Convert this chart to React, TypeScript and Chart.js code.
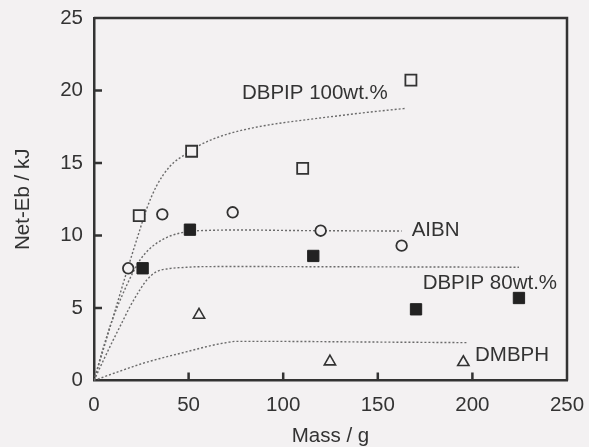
import React, { useEffect, useRef } from "react";
import { Chart, registerables } from "chart.js";

Chart.register(...registerables);

// ---- data ----
const xTickValues = [50, 100, 150, 200];
const yTickValues = [5, 10, 15, 20];

// measured points
const dbpip100PtsX = [23.9, 51.6, 110.3, 167.5];
const dbpip100PtsY = [11.37, 15.81, 14.63, 20.72];

const aibnPtsX = [18.1, 36.1, 73.3, 119.8, 162.6];
const aibnPtsY = [7.74, 11.46, 11.6, 10.33, 9.3];

const dbpip80PtsX = [25.7, 50.7, 115.9, 170.2, 224.6];
const dbpip80PtsY = [7.74, 10.4, 8.59, 4.91, 5.69];

const dmbphPtsX = [55.5, 124.7, 195.2];
const dmbphPtsY = [4.52, 1.3, 1.26];

// fitted (dotted) curves
const dbpip100CurveX = [0, 6, 12, 18, 24, 28, 33, 40, 49, 54, 62, 72, 85, 98, 112, 125, 145, 165];
const dbpip100CurveY = [0, 2.6, 5.2, 7.8, 10.3, 11.9, 13.4, 14.75, 15.67, 16.1, 16.6, 17.05, 17.45, 17.74, 17.98, 18.19, 18.5, 18.77];

const aibnCurveX = [0, 5, 10, 15, 20, 24.3, 28, 33, 40, 49, 60, 80, 100, 120, 140, 162.6];
const aibnCurveY = [0, 2.3, 4.3, 5.9, 7.3, 8.3, 8.9, 9.46, 9.95, 10.26, 10.35, 10.38, 10.35, 10.33, 10.32, 10.31];

const dbpip80CurveX = [0, 5, 10, 15, 19, 24, 28, 33, 40, 48, 56, 80, 110, 140, 170, 200, 224.6];
const dbpip80CurveY = [0, 1.4, 2.75, 4.05, 5.09, 6.2, 6.95, 7.5, 7.72, 7.8, 7.85, 7.86, 7.85, 7.84, 7.83, 7.82, 7.81];

const dmbphCurveX = [0, 8, 16, 26, 35, 44, 52.5, 60, 66, 70, 75, 90, 110, 130, 150, 175, 197];
const dmbphCurveY = [0, 0.38, 0.75, 1.19, 1.52, 1.82, 2.1, 2.35, 2.52, 2.61, 2.7, 2.7, 2.69, 2.67, 2.65, 2.63, 2.61];

// curve labels (text, anchor x, anchor y)
const labelTexts = ["DBPIP 100wt.%", "AIBN", "DBPIP 80wt.%", "DMBPH"];
const labelX = [78.2, 167.9, 173.7, 201.4];
const labelY = [19.83, 10.38, 6.72, 1.76];

const xTitle = "Mass / g";
const yTitle = "Net-Eb / kJ";

// ---- styles ----
const BG = "#f3f1f2";
const INK = "#333333";
const CURVE = "#6b6b6b";
const FONT = "'Liberation Sans', Arial, Helvetica, sans-serif";
const FS = 20.5;

const zip = (xs: number[], ys: number[]) => xs.map((x, i) => ({ x, y: ys[i] }));

const framePlugin = {
  id: "frameAndTicks",
  beforeDatasetsDraw(chart: any) {
    const { ctx, chartArea, scales } = chart;
    ctx.save();
    ctx.strokeStyle = INK;
    ctx.lineWidth = 2.5;
    ctx.beginPath();
    ctx.moveTo(chartArea.left, chartArea.top);
    ctx.lineTo(chartArea.right, chartArea.top);
    ctx.lineTo(chartArea.right, chartArea.bottom);
    ctx.stroke();
    // inward tick marks
    ctx.lineWidth = 2.5;
    ctx.beginPath();
    xTickValues.forEach((v) => {
      const px = scales.x.getPixelForValue(v);
      ctx.moveTo(px, chartArea.bottom);
      ctx.lineTo(px, chartArea.bottom - 8);
    });
    yTickValues.forEach((v) => {
      const py = scales.y.getPixelForValue(v);
      ctx.moveTo(chartArea.left, py);
      ctx.lineTo(chartArea.left + 8, py);
    });
    ctx.stroke();
    ctx.restore();
  },
  afterDatasetsDraw(chart: any) {
    const { ctx, scales } = chart;
    ctx.save();
    ctx.fillStyle = INK;
    ctx.font = `${FS}px ${FONT}`;
    ctx.textAlign = "left";
    ctx.textBaseline = "middle";
    labelTexts.forEach((t, i) => {
      ctx.fillText(t, scales.x.getPixelForValue(labelX[i]), scales.y.getPixelForValue(labelY[i]));
    });
    ctx.restore();
  },
};

export default function App() {
  const ref = useRef<HTMLCanvasElement | null>(null);

  useEffect(() => {
    if (!ref.current) return;
    const markerBase = {
      showLine: false,
      borderColor: INK,
    };
    const curveBase = {
      showLine: true,
      pointRadius: 0,
      borderColor: CURVE,
      borderWidth: 1.4,
      borderDash: [2, 2],
      cubicInterpolationMode: "monotone" as const,
      fill: false,
    };
    const chart = new Chart(ref.current, {
      type: "scatter",
      data: {
        datasets: [
          {
            ...markerBase,
            label: "DBPIP 100wt.%",
            data: zip(dbpip100PtsX, dbpip100PtsY),
            pointStyle: "rect",
            pointRadius: 7.8,
            pointBorderWidth: 1.8,
            pointBackgroundColor: BG,
            pointBorderColor: INK,
          },
          {
            ...markerBase,
            label: "AIBN",
            data: zip(aibnPtsX, aibnPtsY),
            pointStyle: "circle",
            pointRadius: 5.3,
            pointBorderWidth: 1.8,
            pointBackgroundColor: BG,
            pointBorderColor: INK,
          },
          {
            ...markerBase,
            label: "DBPIP 80wt.%",
            data: zip(dbpip80PtsX, dbpip80PtsY),
            pointStyle: "rect",
            pointRadius: 8,
            pointBorderWidth: 1,
            pointBackgroundColor: "#222222",
            pointBorderColor: "#222222",
          },
          {
            ...markerBase,
            label: "DMBPH",
            data: zip(dmbphPtsX, dmbphPtsY),
            pointStyle: "triangle",
            pointRadius: 6.5,
            pointBorderWidth: 1.6,
            pointBackgroundColor: BG,
            pointBorderColor: INK,
          },
          { ...curveBase, label: "DBPIP 100 fit", data: zip(dbpip100CurveX, dbpip100CurveY) },
          { ...curveBase, label: "AIBN fit", data: zip(aibnCurveX, aibnCurveY) },
          { ...curveBase, label: "DBPIP 80 fit", data: zip(dbpip80CurveX, dbpip80CurveY) },
          { ...curveBase, label: "DMBPH fit", data: zip(dmbphCurveX, dmbphCurveY) },
        ],
      },
      options: {
        responsive: false,
        animation: false,
        events: [],
        layout: { padding: { left: 0, top: 18, right: 22, bottom: 0 } },
        plugins: {
          legend: { display: false },
          tooltip: { enabled: false },
        },
        scales: {
          x: {
            type: "linear",
            min: 0,
            max: 250,
            afterFit: (s: any) => {
              s.height = 66.5;
              s.paddingLeft = 0;
              s.paddingRight = 0;
            },
            ticks: {
              stepSize: 50,
              color: INK,
              padding: 12.5,
              font: { family: FONT, size: FS },
              maxRotation: 0,
            },
            grid: { display: false, drawTicks: false },
            border: { display: true, color: INK, width: 2.5 },
            title: {
              display: true,
              text: xTitle,
              color: INK,
              font: { family: FONT, size: FS, lineHeight: 1 },
              padding: 0,
            },
          },
          y: {
            type: "linear",
            min: 0,
            max: 25,
            afterFit: (s: any) => {
              s.width = 94;
              s.paddingTop = 0;
              s.paddingBottom = 0;
            },
            ticks: {
              stepSize: 5,
              color: INK,
              padding: 11,
              font: { family: FONT, size: FS },
            },
            grid: { display: false, drawTicks: false },
            border: { display: true, color: INK, width: 2.5 },
            title: {
              display: true,
              text: yTitle,
              color: INK,
              font: { family: FONT, size: FS, lineHeight: 1 },
              padding: { top: 13.5, bottom: 0 },
            },
          },
        },
      },
      plugins: [framePlugin],
    });
    return () => chart.destroy();
  }, []);

  return (
    <div
      style={{
        position: "absolute",
        left: 0,
        top: 0,
        width: 589,
        height: 447,
        background: BG,
      }}
    >
      <canvas ref={ref} width={589} height={447} />
    </div>
  );
}
